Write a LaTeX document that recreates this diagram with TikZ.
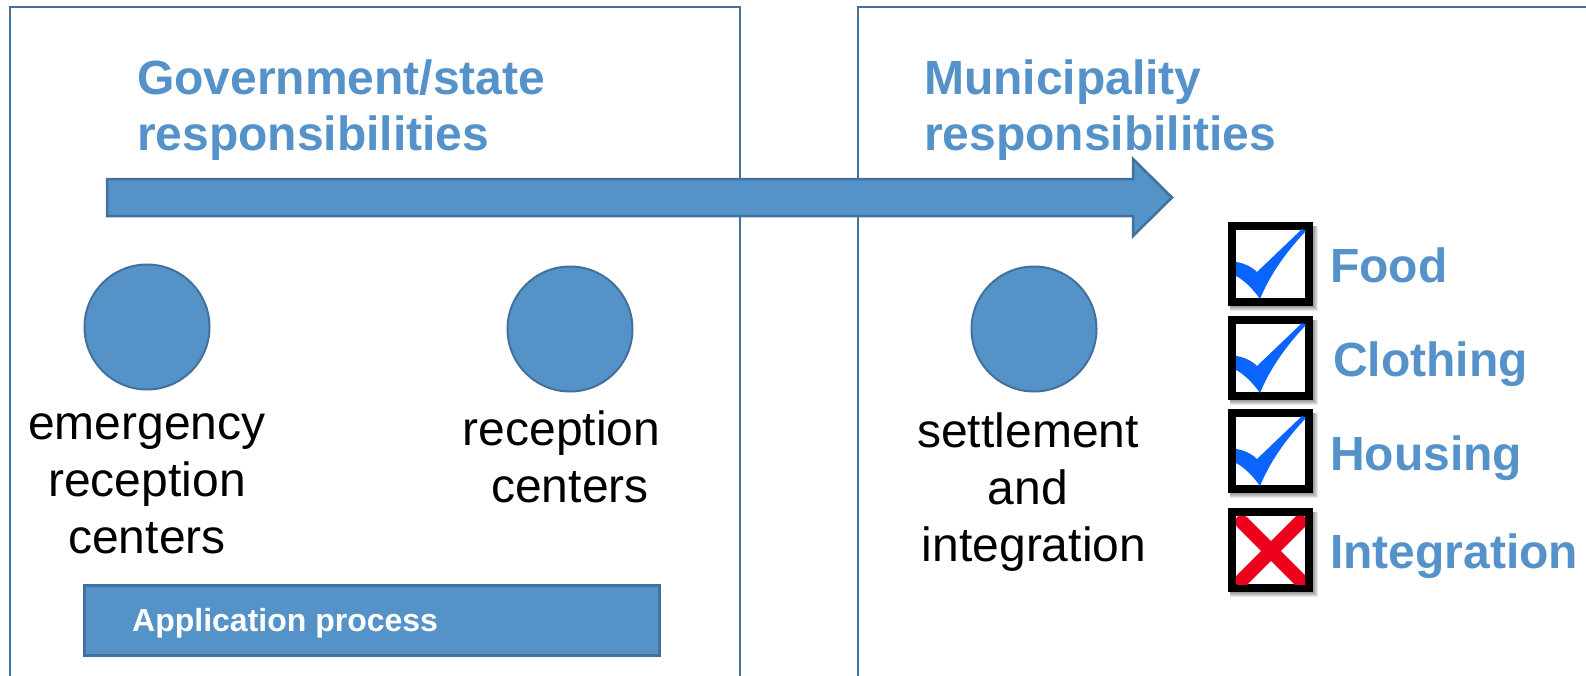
\documentclass[tikz,border=0pt]{standalone}
\usepackage{fontspec}
\setmainfont{Liberation Sans}
\definecolor{fillblue}{RGB}{84,146,199}
\definecolor{edgeblue}{RGB}{65,113,156}
\definecolor{titleblue}{RGB}{85,146,202}
\definecolor{tickblue}{RGB}{10,100,255}
\definecolor{crossred}{RGB}{236,0,28}
\begin{document}
\begin{tikzpicture}[x=1pt,y=-1pt,
  panel/.style={draw=edgeblue, line width=2.5pt},
  dot/.style={circle, fill=fillblue, draw=edgeblue, line width=2pt, minimum size=125pt, inner sep=0pt},
  bodytext/.style={font=\fontsize{48}{57}\selectfont, text=black, inner sep=0pt, anchor=base},
  titletext/.style={font=\fontsize{48}{56}\selectfont\bfseries, text=titleblue, inner sep=0pt, anchor=base west},
  itemtext/.style={font=\fontsize{48}{56}\selectfont\bfseries, text=titleblue, inner sep=0pt, anchor=base west},
  chkbox/.style={draw=black, fill=white, line width=8pt, minimum width=77pt, minimum height=76pt, inner sep=0pt},
  shadowlayer/.style={fill=black, opacity=0.09},
  checkmark/.pic={
    \fill[tickblue] (8,40) .. controls (16,41) and (24,45) .. (29,50) -- (74,7) -- (78,9)
      .. controls (56,32) and (41,55) .. (32,77) .. controls (25,67) and (16,58) .. (8,54) -- cycle;
  },
  crossmark/.pic={
    \begin{scope}
      \clip (8,8) rectangle (77,76);
      \draw[crossred, line width=14pt, line cap=round] (14,14) -- (72,72) (72,14) -- (14,72);
    \end{scope}
  }
]
\useasboundingbox (0,0) rectangle (1586,675);
\clip (0,0) rectangle (1586,675);
\fill[white] (0,0) rectangle (1586,675);

% panels
\draw[panel] (10,7) rectangle (740,700);
\draw[panel] (858,7) rectangle (1600,700);

% titles
\node[titletext] (govtitle) at (137,94) {\begin{tabular}[t]{@{}l@{}}Government/state\\responsibilities\end{tabular}};
\node[titletext] (muntitle) at (924,94) {\begin{tabular}[t]{@{}l@{}}Municipality\\responsibilities\end{tabular}};

% big arrow
\draw[fill=fillblue, draw=edgeblue, line width=2.5pt, line join=miter]
  (107,179) -- (1133,179) -- (1133,159) -- (1172,197.5) -- (1133,236) -- (1133,216) -- (107,216) -- cycle;

% circles
\node[dot] (emerdot) at (147,327) {};
\node[dot] (recdot) at (570,329) {};
\node[dot] (setdot) at (1034,329) {};

% circle labels
\node[bodytext] (emertext) at (147,439) {\begin{tabular}[t]{@{}c@{}}emergency\\reception\\centers\end{tabular}};
\node[bodytext] (rectext) at (570,445) {\begin{tabular}[t]{@{}c@{}}reception\hspace*{17pt}\\centers\end{tabular}};
\node[bodytext] (settext) at (1034,447) {\begin{tabular}[t]{@{}c@{}}settlement\hspace*{12pt}\\and\hspace*{12pt}\\integration\end{tabular}};

% application process bar
\node[draw=edgeblue, fill=fillblue, line width=2.5pt, minimum width=575pt, minimum height=70pt, inner sep=0pt, anchor=north west] (appbar) at (83,584) {};
\node[font=\fontsize{32}{36}\selectfont\bfseries, text=white, inner sep=0pt, anchor=base west] (apptext) at (132,631) {Application process};

% check box shadows
\foreach \yy in {222,316,409,508} {
  \foreach \i in {1,...,5} {
    \fill[shadowlayer] (1228+2, \yy+4) rectangle (1313+\i, \yy+84+\i);
  }
}

% check boxes
\node[chkbox] (chkfood) at (1270.5,264) {};
\node[chkbox] (chkcloth) at (1270.5,357.5) {};
\node[chkbox] (chkhouse) at (1270.5,451) {};
\node[chkbox] (chkinteg) at (1270.5,549.5) {};
\pic at (1228,222) {checkmark};
\pic at (1228,316) {checkmark};
\pic at (1228,409) {checkmark};
\pic at (1228,508) {crossmark};

% item labels
\node[itemtext] (food) at (1330,282) {Food};
\node[itemtext] (cloth) at (1333,376) {Clothing};
\node[itemtext] (house) at (1330,470) {Housing};
\node[itemtext] (integ) at (1330,568) {Integration};
\end{tikzpicture}
\end{document}
